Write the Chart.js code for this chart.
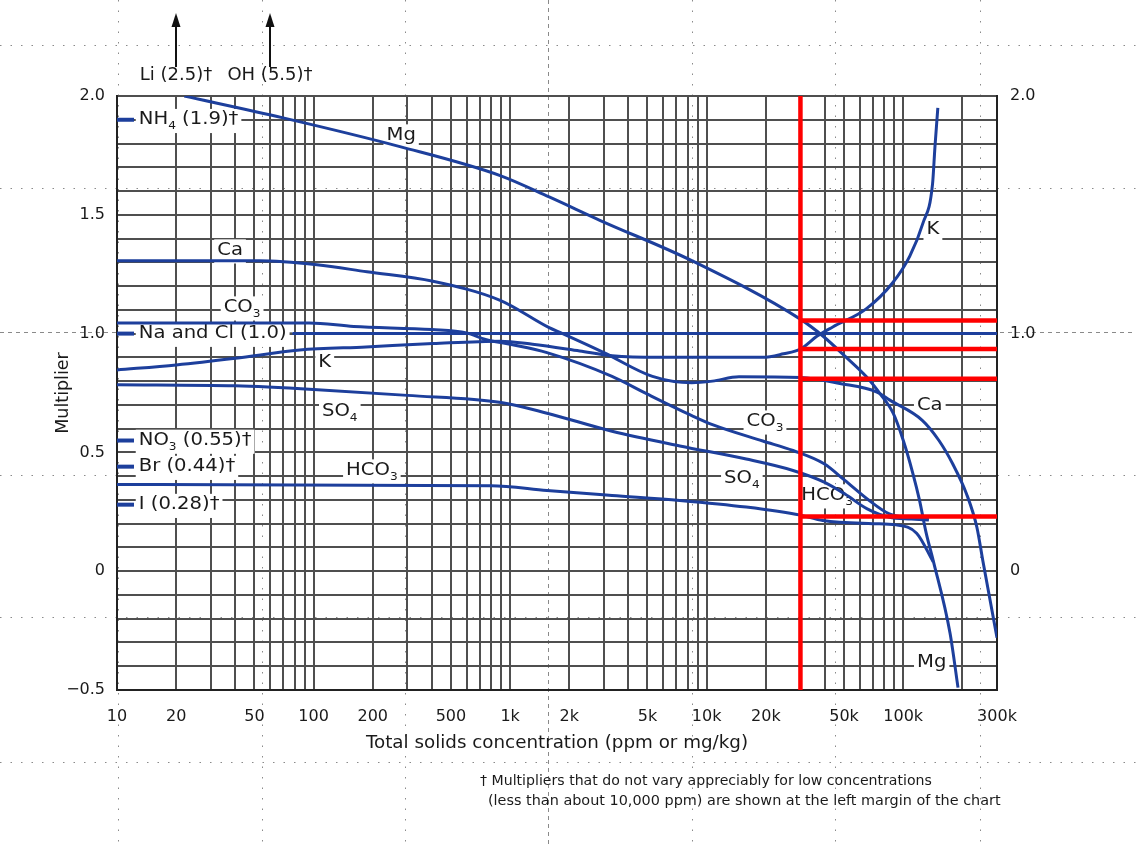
<!DOCTYPE html>
<html><head><meta charset="utf-8">
<script src="https://cdn.jsdelivr.net/npm/chart.js@4.4.1/dist/chart.umd.min.js"></script>
<style>html,body{margin:0;padding:0;background:#fff;overflow:hidden}canvas{display:block}</style>
</head><body>
<canvas id="c" width="1136" height="847"></canvas>
<script>
// ---------------- data ----------------
const xTickValues = [10, 20, 50, 100, 200, 500, 1000, 2000, 5000, 10000, 20000, 50000, 100000, 300000];
const xTickLabels = ['10', '20', '50', '100', '200', '500', '1k', '2k', '5k', '10k', '20k', '50k', '100k', '300k'];
const yTickValues = [2.0, 1.5, 1.0, 0.5, 0, -0.5];
const yTickLabels = ['2.0', '1.5', '1.0', '0.5', '0', '\u22120.5'];
const yRightTickValues = [2.0, 1.0, 0];
const yRightTickLabels = ['2.0', '1.0', '0'];
const xMin = 10, xMax = 300000, yMin = -0.5, yMax = 2.0;

const mgConc = [22, 70, 275, 890, 1580, 2860, 8400, 29800, 39000, 51000, 65000, 76000, 89000, 100000, 112000, 121000, 131000, 142000, 173000, 190000];
const mgMult = [2.0, 1.908, 1.787, 1.665, 1.575, 1.477, 1.307, 1.062, 0.99, 0.902, 0.818, 0.748, 0.664, 0.551, 0.411, 0.299, 0.159, 0.046, -0.26, -0.49];

const caConc = [10, 53, 104, 187, 405, 890, 1580, 1850, 3000, 5300, 8400, 10700, 14600, 30000, 47600, 73500, 85500, 125000, 152000, 179000, 210000, 237000, 254000, 300000];
const caMult = [1.307, 1.307, 1.29, 1.26, 1.22, 1.14, 1.025, 1.0, 0.92, 0.82, 0.793, 0.80, 0.818, 0.815, 0.79, 0.754, 0.72, 0.635, 0.55, 0.45, 0.325, 0.185, 0.045, -0.28];

const co3Conc = [10, 95, 160, 400, 600, 750, 1000, 1540, 3300, 5000, 8400, 10700, 19300, 27500, 39600, 50500, 65600, 85000, 110000, 135000];
const co3Mult = [1.045, 1.045, 1.03, 1.017, 1.003, 0.975, 0.955, 0.92, 0.82, 0.745, 0.655, 0.617, 0.548, 0.508, 0.452, 0.382, 0.304, 0.241, 0.225, 0.22];

const kConc = [10, 20, 40, 85, 185, 405, 890, 1300, 2260, 3300, 5700, 19300, 24600, 30000, 36500, 43800, 64800, 88600, 108000, 126000, 141000, 145000, 150000];
const kMult = [0.847, 0.868, 0.896, 0.931, 0.944, 0.958, 0.968, 0.955, 0.927, 0.907, 0.9, 0.9, 0.915, 0.935, 0.99, 1.028, 1.104, 1.215, 1.326, 1.465, 1.63, 1.785, 1.95];

const so4Conc = [10, 40, 100, 300, 900, 1540, 3300, 7300, 15900, 27500, 39600, 50500, 65600, 85000, 110000, 135000];
const so4Mult = [0.785, 0.78, 0.765, 0.74, 0.71, 0.665, 0.589, 0.527, 0.472, 0.424, 0.375, 0.325, 0.262, 0.227, 0.22, 0.215];

const hco3Conc = [10, 800, 1540, 3300, 7300, 15900, 30000, 39000, 70000, 92000, 117000, 142000];
const hco3Mult = [0.365, 0.36, 0.34, 0.319, 0.298, 0.27, 0.236, 0.213, 0.2, 0.195, 0.16, 0.04];

const naclConc = [78, 300000];
const naclMult = [1.0, 1.0];

// multipliers shown at the left margin
const marginLabelText = ['NH_4 (1.9)\u2020', 'Na and Cl (1.0)', 'NO_3 (0.55)\u2020', 'Br (0.44)\u2020', 'I (0.28)\u2020'];
const marginMult = [1.9, 1.0, 0.55, 0.44, 0.28];
const marginDashConc = [10, 12.2];
const marginLabelConc = 12.9;

// off-scale multipliers (arrows above the chart)
const arrowText = ['Li (2.5)\u2020', 'OH (5.5)\u2020'];
const arrowConc = [20, 60];

// red reading lines at 30,000 ppm
const readConc = 30000;
const readMult = [1.055, 0.935, 0.81, 0.23];

// curve labels
const curveLabelText = ['Mg', 'Ca', 'CO_3', 'K', 'SO_4', 'HCO_3', 'CO_3', 'SO_4', 'HCO_3', 'K', 'Ca', 'Mg'];
const curveLabelConc = [279, 37.6, 43.3, 114, 136, 198, 19800, 15100, 41000, 141600, 136500, 139600];
const curveLabelMult = [1.835, 1.351, 1.111, 0.88, 0.673, 0.425, 0.631, 0.391, 0.32, 1.44, 0.699, -0.383];

const footnote = ['\u2020 Multipliers that do not vary appreciably for low concentrations',
                  '(less than about 10,000 ppm) are shown at the left margin of the chart'];

// ---------------- styling ----------------
const BLUE = '#1d3f9c';
const RED = '#ff0000';
const GRID = '#4f4f4f';
const TXT = '#1a1a1a';
const FONT = '"DejaVu Sans", sans-serif';
const LABEL_SIZE = 17.5, LABEL_STRETCH = 1.12;

function pts(xs, ys) { return xs.map((x, i) => ({ x: x, y: ys[i] })); }

const datasets = [];
// red reading lines (first => drawn on top)
datasets.push({ data: pts([readConc, readConc], [yMin, yMax]), borderColor: RED, borderWidth: 4.5 });
readMult.forEach(v => datasets.push({ data: pts([readConc, xMax], [v, v]), borderColor: RED, borderWidth: 4.5 }));
// curves
[[mgConc, mgMult], [caConc, caMult], [co3Conc, co3Mult], [kConc, kMult], [so4Conc, so4Mult], [hco3Conc, hco3Mult]]
  .forEach(([xs, ys]) => datasets.push({ data: pts(xs, ys), borderColor: BLUE, borderWidth: 3, cubicInterpolationMode: 'monotone' }));
datasets.push({ data: pts(naclConc, naclMult), borderColor: BLUE, borderWidth: 3 });
marginMult.forEach(v => datasets.push({ data: pts(marginDashConc, [v, v]), borderColor: BLUE, borderWidth: 4 }));
datasets.forEach(d => { d.showLine = true; d.pointRadius = 0; d.fill = false; });

const xGrid = [];
for (let e = 1; e <= 5; e++) for (let m = 1; m <= 9; m++) { const v = m * Math.pow(10, e); if (v <= xMax) xGrid.push(v); }
const yGrid = [];
for (let i = -5; i <= 20; i++) yGrid.push(i / 10);

function findLabel(vals, labels, v) {
  for (let i = 0; i < vals.length; i++) if (Math.abs(vals[i] - v) < 1e-6 * Math.max(1, Math.abs(v))) return labels[i];
  return '';
}

function parseRich(s) {
  const parts = [];
  let buf = '';
  for (let i = 0; i < s.length; i++) {
    if (s[i] === '_' && i + 1 < s.length) { if (buf) parts.push({ t: buf }); buf = ''; parts.push({ t: s[i + 1], sub: true }); i++; }
    else buf += s[i];
  }
  if (buf) parts.push({ t: buf });
  return parts;
}
function drawRich(ctx, s, x, cy, size, align, box, stretch) {
  const parts = parseRich(s);
  let w = 0;
  parts.forEach(p => { ctx.font = (p.sub ? size * 0.62 : size) + 'px ' + FONT; p.w = ctx.measureText(p.t).width; w += p.w; });
  const W = w * stretch;
  const sx = align === 'center' ? x - W / 2 : x;
  if (box) { ctx.fillStyle = '#fff'; ctx.fillRect(sx - 3, cy - size * 0.62, W + 6, size * 1.38); }
  ctx.save();
  ctx.translate(sx, cy);
  ctx.scale(stretch, 1);
  ctx.fillStyle = TXT; ctx.textBaseline = 'middle'; ctx.textAlign = 'left';
  let px = 0;
  parts.forEach(p => {
    ctx.font = (p.sub ? size * 0.62 : size) + 'px ' + FONT;
    ctx.fillText(p.t, px, p.sub ? size * 0.38 : 0);
    px += p.w;
  });
  ctx.restore();
}

const decor = {
  id: 'decor',
  beforeDraw(chart) {
    const ctx = chart.ctx;
    ctx.save();
    ctx.strokeStyle = '#8a8a8a'; ctx.lineWidth = 1;
    const rows = [45, 188, 475, 617, 762], cols = [118, 262, 405, 692, 835, 980];
    ctx.setLineDash([1.5, 9]);
    rows.forEach(y => { ctx.beginPath(); ctx.moveTo(0, y + 0.5); ctx.lineTo(1136, y + 0.5); ctx.stroke(); });
    cols.forEach(x => { ctx.beginPath(); ctx.moveTo(x + 0.5, 0); ctx.lineTo(x + 0.5, 847); ctx.stroke(); });
    ctx.setLineDash([4, 4]);
    ctx.beginPath(); ctx.moveTo(0, 332.5); ctx.lineTo(1136, 332.5); ctx.stroke();
    ctx.beginPath(); ctx.moveTo(548.5, 0); ctx.lineTo(548.5, 847); ctx.stroke();
    ctx.restore();
  },
  beforeDatasetsDraw(chart) {
    const ctx = chart.ctx, xs = chart.scales.x, ys = chart.scales.y;
    ctx.save();
    curveLabelText.forEach((t, i) => drawRich(ctx, t, xs.getPixelForValue(curveLabelConc[i]), ys.getPixelForValue(curveLabelMult[i]), LABEL_SIZE, 'center', true, LABEL_STRETCH));
    marginLabelText.forEach((t, i) => drawRich(ctx, t, xs.getPixelForValue(marginLabelConc), ys.getPixelForValue(marginMult[i]), LABEL_SIZE, 'left', true, LABEL_STRETCH));
    ctx.restore();
  },
  afterDraw(chart) {
    const ctx = chart.ctx, xs = chart.scales.x, top = chart.chartArea.top;
    ctx.save();
    arrowText.forEach((t, i) => {
      const px = Math.round(xs.getPixelForValue(arrowConc[i]));
      drawRich(ctx, t, px, top - 20, 17, 'center', false, 1.06);
      ctx.strokeStyle = '#111'; ctx.lineWidth = 2;
      ctx.beginPath(); ctx.moveTo(px, top - 29); ctx.lineTo(px, top - 72); ctx.stroke();
      ctx.fillStyle = '#111';
      ctx.beginPath(); ctx.moveTo(px, top - 83); ctx.lineTo(px - 4.5, top - 69); ctx.lineTo(px + 4.5, top - 69); ctx.closePath(); ctx.fill();
    });
    // footnote
    const targets = [[480, 781, 452], [488, 801, 513]];
    footnote.forEach((t, i) => {
      ctx.font = '13px ' + FONT;
      const w = ctx.measureText(t).width;
      const size = 13 * targets[i][2] / w;
      ctx.font = size.toFixed(2) + 'px ' + FONT;
      ctx.fillStyle = TXT; ctx.textBaseline = 'middle'; ctx.textAlign = 'left';
      ctx.fillText(t, targets[i][0], targets[i][1]);
    });
    ctx.restore();
  }
};

new Chart(document.getElementById('c'), {
  type: 'scatter',
  data: { datasets: datasets },
  options: {
    responsive: false,
    animation: false,
    events: [],
    layout: { padding: { top: 96, left: 0, right: 0, bottom: 0 } },
    plugins: { legend: { display: false }, tooltip: { enabled: false } },
    scales: {
      x: {
        type: 'logarithmic', min: xMin, max: xMax, position: 'bottom',
        afterBuildTicks: s => { s.ticks = xGrid.map(v => ({ value: v })); },
        afterFit: s => { s.height = 157; },
        grid: { color: GRID, lineWidth: 2, drawTicks: false },
        border: { color: '#222', width: 2 },
        ticks: { autoSkip: false, maxRotation: 0, minRotation: 0, padding: 17, color: TXT,
                 font: { family: FONT, size: 16 },
                 callback: v => findLabel(xTickValues, xTickLabels, v) },
        title: { display: true, text: 'Total solids concentration (ppm or mg/kg)', color: TXT,
                 font: { family: FONT, size: 18.3 }, padding: { top: 0, bottom: 93 } }
      },
      y: {
        min: yMin, max: yMax, position: 'left',
        afterBuildTicks: s => { s.ticks = yGrid.map(v => ({ value: v })); },
        afterFit: s => { s.width = 117; },
        grid: { color: GRID, lineWidth: 2, drawTicks: false },
        border: { color: '#222', width: 2 },
        ticks: { autoSkip: false, padding: 12, color: TXT, font: { family: FONT, size: 16 },
                 callback: v => findLabel(yTickValues, yTickLabels, v) },
        title: { display: true, text: 'Multiplier', color: TXT, font: { family: FONT, size: 17.5 }, padding: { top: 53, bottom: 0 } }
      },
      y2: {
        min: yMin, max: yMax, position: 'right',
        afterBuildTicks: s => { s.ticks = yGrid.map(v => ({ value: v })); },
        afterFit: s => { s.width = 139; },
        grid: { drawOnChartArea: false, drawTicks: false },
        border: { color: '#222', width: 2 },
        ticks: { autoSkip: false, padding: 13, color: TXT, font: { family: FONT, size: 16 },
                 callback: v => findLabel(yRightTickValues, yRightTickLabels, v) }
      }
    }
  },
  plugins: [decor]
});
</script>
</body></html>
